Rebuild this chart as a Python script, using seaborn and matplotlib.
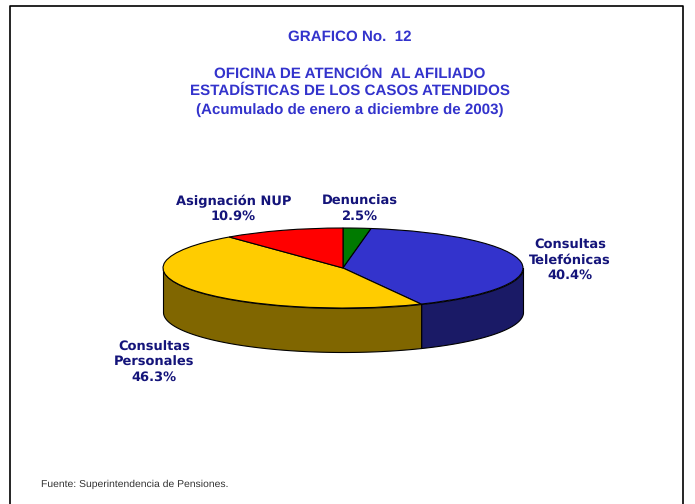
import numpy as np
import matplotlib.pyplot as plt
import seaborn as sns

categories = ['Denuncias', 'Consultas\nTelefónicas', 'Consultas\nPersonales', 'Asignación NUP']
values = [2.5, 40.4, 46.3, 10.9]
top_colors = ['#007A00', '#3333CC', '#FFCC00', '#FF0000']
side_colors = ['#003D00', '#1A1A66', '#806600', '#800000']

titles = ['GRAFICO No.  12',
          'OFICINA DE ATENCIÓN  AL AFILIADO',
          'ESTADÍSTICAS DE LOS CASOS ATENDIDOS',
          '(Acumulado de enero a diciembre de 2003)']
source = 'Fuente: Superintendencia de Pensiones.'

W, H = 695, 504
cx, cy, rx, ry, depth = 343, 268, 180, 40, 44

sns.set_theme(style='white')
plt.rcParams['font.family'] = ['Liberation Sans', 'DejaVu Sans']
plt.rcParams['text.hinting'] = 'no_hinting'

fig = plt.figure(figsize=(W / 100, H / 100), dpi=100, facecolor='white')
ax = fig.add_axes([0, 0, 1, 1])


def px(x, y):
    return x / W, 1 - y / H


# pie is a flat ellipse: one data unit is rx pixels across, ry pixels down
ax.pie(values, colors=top_colors, startangle=90, counterclock=False, radius=1,
       wedgeprops=dict(edgecolor='black', linewidth=0.8, zorder=3))

# side wall of the slices in the front half
bounds = np.cumsum([0] + values) / sum(values) * 360
for start, end, col in zip(bounds[:-1], bounds[1:], side_colors):
    a, b = max(start, 90), min(end, 270)
    if a >= b:
        continue
    t = np.radians(np.linspace(a, b, 120))
    ax.fill_between(np.sin(t), np.cos(t), np.cos(t) - depth / ry, facecolor=col,
                    edgecolor='black', linewidth=0.8, zorder=2)

ax.set_aspect('auto')
ax.set_xlim(-cx / rx, (W - cx) / rx)
ax.set_ylim(-(H - cy) / ry, cy / ry)
ax.axis('off')

# page frame, open at the bottom
fig.add_artist(plt.Line2D([10 / W, 10 / W, 683 / W, 683 / W], [0, 1 - 6 / H, 1 - 6 / H, 0],
                          color='black', linewidth=1.2))

for txt, y in zip(titles, [37, 74, 91, 110]):
    fig.text(*px(350, y), txt, color='#3333CC', fontsize=10.9, fontweight='bold', ha='center', va='center')

label_pos = [(359.5, 208.5), (570, 260), (154, 362), (233.5, 208.5)]
for cat, val, (x, y) in zip(categories, values, label_pos):
    fig.text(*px(x, y), f'{cat}\n{val}%', color='#14147A', fontsize=9.4, fontweight='bold',
             family=['DejaVu Sans'], ha='center', va='center', linespacing=1.22)

fig.text(*px(41, 484), source, color='#333333', fontsize=7.45, ha='left', va='center')

fig.savefig('out.png', dpi=100)
